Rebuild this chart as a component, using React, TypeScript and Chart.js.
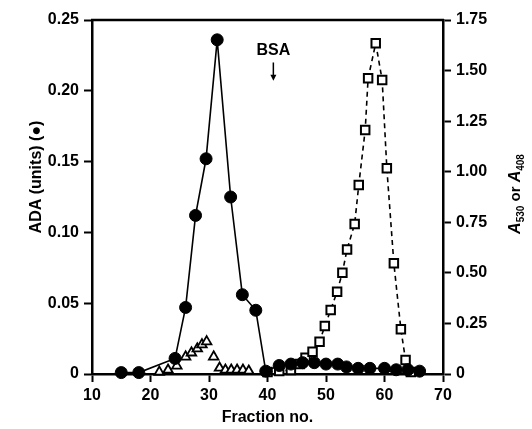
import React, { useEffect, useRef } from 'react';
import { Chart, registerables } from 'chart.js';

Chart.register(...registerables);

// ADA activity (filled circles, left axis)
const adaFractions = [15, 18, 24.2, 26, 27.7, 29.5, 31.4, 33.7, 35.7, 38, 39.7, 42, 44, 46, 48, 50, 52, 53.5, 55.5, 57.5, 60, 62, 64, 66];
const adaValues = [0.001, 0.001, 0.011, 0.047, 0.112, 0.152, 0.236, 0.125, 0.056, 0.045, 0.002, 0.006, 0.007, 0.008, 0.008, 0.007, 0.007, 0.005, 0.004, 0.004, 0.004, 0.003, 0.003, 0.002];

// Open triangles (right axis)
const triFractions = [21.5, 23, 24.5, 26, 27, 28, 28.8, 29.6, 30.8, 31.8, 32.8, 33.8, 34.8, 35.8, 36.8];
const triValues = [0.01, 0.02, 0.04, 0.085, 0.105, 0.125, 0.145, 0.16, 0.085, 0.03, 0.02, 0.02, 0.02, 0.02, 0.015];

// Open squares, dashed (right axis)
const sqFractions = [40, 42, 44, 45.5, 46.5, 47.7, 48.9, 49.8, 50.8, 51.9, 52.8, 53.6, 54.9, 55.6, 56.7, 57.2, 58.5, 59.6, 60.4, 61.6, 62.8, 63.6, 64.5];
const sqValues = [0.01, 0.015, 0.02, 0.05, 0.08, 0.11, 0.16, 0.237, 0.316, 0.407, 0.501, 0.616, 0.742, 0.934, 1.206, 1.462, 1.635, 1.453, 1.017, 0.547, 0.221, 0.069, 0.01];

const xMin = 10, xMax = 70, xStep = 10;
const leftMin = 0, leftMax = 0.25, leftStep = 0.05;
const rightMin = 0, rightMax = 1.75, rightStep = 0.25;

const bsaLabel = 'BSA';
const bsaFraction = 41.0;
const bsaLabelValue = 1.6;
const bsaArrowFrom = 1.54;
const bsaArrowTo = 1.45;

const xTitle = 'Fraction no.';
const leftTitle = 'ADA (units) (\u25CF)';

const FONT = '"Liberation Sans", Arial, Helvetica, sans-serif';

const fmt = (v: number) => (v === 0 ? '0' : v.toFixed(2));

export default function App() {
  const ref = useRef<HTMLCanvasElement | null>(null);

  useEffect(() => {
    document.body.style.margin = '0';
    const canvas = ref.current;
    if (!canvas) return;

    const framePlugin = {
      id: 'frameAndNotes',
      afterDraw(chart: any) {
        const { ctx, chartArea, scales } = chart;
        ctx.save();
        // top frame line
        ctx.strokeStyle = '#000';
        ctx.lineWidth = 2.5;
        ctx.beginPath();
        ctx.moveTo(chartArea.left - 1, chartArea.top);
        ctx.lineTo(chartArea.right + 1, chartArea.top);
        ctx.stroke();

        // BSA annotation
        const bx = scales.x.getPixelForValue(bsaFraction);
        const by = scales.y2.getPixelForValue(bsaLabelValue);
        ctx.fillStyle = '#000';
        ctx.font = `bold 16px ${FONT}`;
        ctx.textAlign = 'center';
        ctx.textBaseline = 'middle';
        ctx.fillText(bsaLabel, bx, by);
        const a1 = scales.y2.getPixelForValue(bsaArrowFrom);
        const a2 = scales.y2.getPixelForValue(bsaArrowTo);
        ctx.lineWidth = 1.5;
        ctx.beginPath();
        ctx.moveTo(bx, a1);
        ctx.lineTo(bx, a2 - 5);
        ctx.stroke();
        ctx.beginPath();
        ctx.moveTo(bx - 3, a2 - 6);
        ctx.lineTo(bx + 3, a2 - 6);
        ctx.lineTo(bx, a2);
        ctx.closePath();
        ctx.fill();

        // left axis title
        const midY = (chartArea.top + chartArea.bottom) / 2;
        ctx.save();
        ctx.translate(37, midY - 20);
        ctx.rotate(-Math.PI / 2);
        ctx.font = `bold 16px ${FONT}`;
        ctx.textAlign = 'center';
        ctx.textBaseline = 'middle';
        ctx.fillText(leftTitle, 0, 0);
        ctx.restore();

        // right axis title: A530 or A408 with italic A and subscripts
        const segs = [
          { t: 'A', f: `italic bold 16px ${FONT}`, dy: 0 },
          { t: '530', f: `bold 10px ${FONT}`, dy: 5 },
          { t: ' or ', f: `bold 15px ${FONT}`, dy: 0 },
          { t: 'A', f: `italic bold 16px ${FONT}`, dy: 0 },
          { t: '408', f: `bold 10px ${FONT}`, dy: 5 },
        ];
        ctx.save();
        ctx.translate(516, midY - 3);
        ctx.rotate(-Math.PI / 2);
        ctx.textAlign = 'left';
        ctx.textBaseline = 'middle';
        let total = 0;
        for (const s of segs) {
          ctx.font = s.f;
          total += ctx.measureText(s.t).width;
        }
        let tx = -total / 2;
        for (const s of segs) {
          ctx.font = s.f;
          ctx.fillText(s.t, tx, s.dy);
          tx += ctx.measureText(s.t).width;
        }
        ctx.restore();
        ctx.restore();
      },
    };

    const axisCommon = {
      grid: {
        drawOnChartArea: false,
        drawTicks: true,
        tickLength: 8,
        tickWidth: 2,
        tickColor: '#000',
      },
      border: { display: true, color: '#000', width: 2.5 },
    };

    const chart = new Chart(canvas, {
      type: 'scatter',
      data: {
        datasets: [
          {
            label: 'ADA',
            data: adaFractions.map((f, i) => ({ x: f, y: adaValues[i] })),
            yAxisID: 'y',
            showLine: true,
            borderColor: '#000',
            borderWidth: 1.6,
            pointStyle: 'circle',
            pointRadius: 6,
            pointBackgroundColor: '#000',
            pointBorderColor: '#000',
            pointBorderWidth: 1,
            clip: false,
            order: 0,
          },
          {
            label: 'A530',
            data: sqFractions.map((f, i) => ({ x: f, y: sqValues[i] })),
            yAxisID: 'y2',
            showLine: true,
            borderColor: '#000',
            borderWidth: 1.6,
            borderDash: [5, 4],
            pointStyle: 'rect',
            pointRadius: 6,
            pointBackgroundColor: '#fff',
            pointBorderColor: '#000',
            pointBorderWidth: 2,
            clip: false,
            order: 1,
          },
          {
            label: 'A408',
            data: triFractions.map((f, i) => ({ x: f, y: triValues[i] })),
            yAxisID: 'y2',
            showLine: false,
            borderColor: '#000',
            pointStyle: 'triangle',
            pointRadius: 5.5,
            pointBackgroundColor: '#fff',
            pointBorderColor: '#000',
            pointBorderWidth: 1.8,
            clip: false,
            order: 2,
          },
        ],
      },
      options: {
        responsive: false,
        animation: false,
        devicePixelRatio: 1,
        layout: { padding: { top: 20, left: 0, right: 0, bottom: 0 } },
        plugins: { legend: { display: false }, tooltip: { enabled: false } },
        scales: {
          x: {
            type: 'linear',
            position: 'bottom',
            min: xMin,
            max: xMax,
            ...axisCommon,
            ticks: {
              stepSize: xStep,
              color: '#000',
              font: { family: FONT, size: 16, weight: 'bold' },
              padding: 4,
              maxRotation: 0,
            },
            title: {
              display: true,
              text: xTitle,
              color: '#000',
              font: { family: FONT, size: 16, weight: 'bold' },
              padding: { top: 0, bottom: 2 },
            },
            afterFit: (s: any) => {
              s.height = 55;
            },
          },
          y: {
            type: 'linear',
            position: 'left',
            min: leftMin,
            max: leftMax,
            ...axisCommon,
            ticks: {
              stepSize: leftStep,
              color: '#000',
              font: { family: FONT, size: 16, weight: 'bold' },
              padding: 5,
              callback: (v: any) => fmt(Number(v)),
            },
            afterFit: (s: any) => {
              s.width = 92;
            },
          },
          y2: {
            type: 'linear',
            position: 'right',
            min: rightMin,
            max: rightMax,
            ...axisCommon,
            ticks: {
              stepSize: rightStep,
              color: '#000',
              font: { family: FONT, size: 16, weight: 'bold' },
              padding: 5,
              callback: (v: any) => fmt(Number(v)),
            },
            afterFit: (s: any) => {
              s.width = 89;
            },
          },
        },
      },
      plugins: [framePlugin],
    } as any);

    return () => chart.destroy();
  }, []);

  return (
    <div style={{ width: 532, height: 429, background: '#fff' }}>
      <canvas ref={ref} width={532} height={429} />
    </div>
  );
}
